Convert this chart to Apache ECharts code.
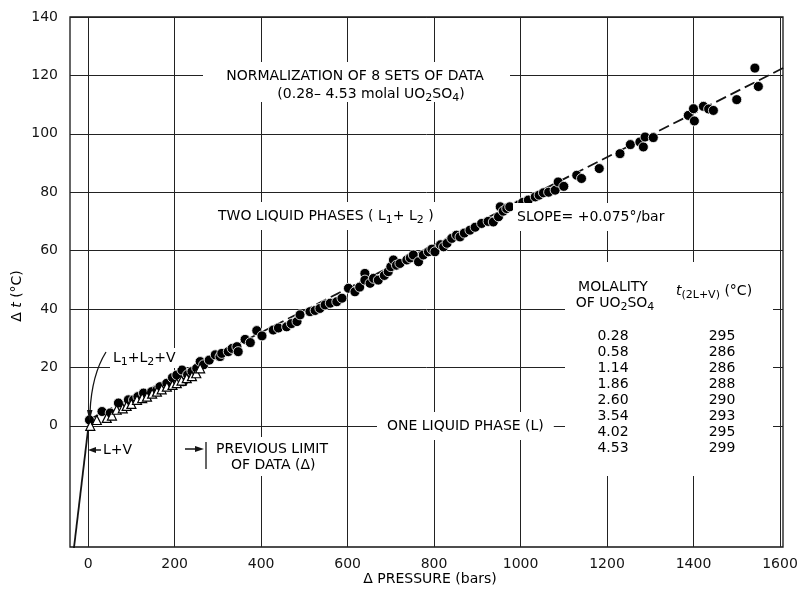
<!DOCTYPE html>
<html>
<head>
<meta charset="utf-8">
<script src="https://cdn.jsdelivr.net/npm/echarts@6/dist/echarts.min.js"></script>
<style>
  html, body { margin: 0; padding: 0; background: #fff; }
  #main { width: 801px; height: 590px; }
</style>
</head>
<body>
<div id="main"></div>
<script>
// tick values
const xTicks = [0, 200, 400, 600, 800, 1000, 1200, 1400, 1600];
const yTicks = [0, 20, 40, 60, 80, 100, 120, 140];

// filled circles: normalized data, [delta pressure (bars), delta t (C)]
const circles = [
  [3, 2], [32, 4.9], [51, 4.4], [70, 7.8], [93, 8.9], [105, 8.9], [115, 10], [128, 11.2],
  [147, 11.7], [160, 12.5], [166, 13.4], [182, 14.6], [195, 16.5], [205, 17.4], [217, 19.1],
  [220, 15.1], [230, 17.5], [240, 18.6], [251, 19.7], [259, 22], [267, 20.9], [280, 22.5],
  [294, 24.3], [305, 23.7], [309, 24.8], [324, 25.4], [333, 26.5], [344, 27.1], [347, 25.4],
  [363, 29.6], [375, 28.5], [390, 32.6], [402, 30.8], [428, 32.8], [440, 33.5], [459, 33.9],
  [470, 35], [483, 35.7], [490, 38], [513, 39.1], [525, 39.5], [536, 40.2], [548, 41.4],
  [560, 42], [575, 42.5], [587, 43.7], [602, 47.1], [617, 45.9], [628, 47.5], [640, 52.2],
  [640, 49.9], [652, 48.8], [660, 50.5], [671, 49.9], [685, 51.5], [694, 52.8], [700, 54.5],
  [706, 56.8], [713, 55], [721, 55.6], [737, 56.8], [745, 57.5], [752, 58.5], [764, 56.2],
  [775, 58.5], [787, 59.6], [795, 60.5], [802, 59.6], [815, 62], [822, 61.3], [830, 62.5],
  [841, 64.2], [852, 65.3], [860, 64.7], [870, 66], [883, 67], [895, 68], [910, 69.3],
  [925, 70], [937, 69.8], [949, 71.6], [953, 75], [960, 73.5], [968, 74.4], [975, 75],
  [995, 75.6], [1005, 76.5], [1018, 77.3], [1034, 78.4], [1043, 79], [1053, 79.8], [1065, 80],
  [1080, 80.7], [1087, 83.5], [1100, 82], [1130, 85.8], [1141, 84.7], [1182, 88.1],
  [1230, 93.2], [1254, 96.3], [1276, 97.2], [1284, 95.5], [1288, 98.9], [1307, 98.7],
  [1388, 106.3], [1400, 108.6], [1402, 104.4], [1423, 109.4], [1435, 108.5], [1446, 108],
  [1500, 111.7], [1542, 122.5], [1550, 116.2]
];

// open triangles: previous data
const triangles = [
  [5, 0], [20, 2], [43, 2.7], [55, 3.5], [66, 5.5], [80, 6], [89, 6.8], [100, 7.5],
  [113, 8.9], [125, 9.5], [136, 10], [148, 11], [159, 11.7], [170, 12.5], [182, 13.4],
  [195, 14], [205, 14.6], [216, 15.5], [228, 16.3], [240, 17], [250, 18], [259, 19.7]
];

// slope +0.075 deg/bar line and the L+V boundary
const fitLine = [[0, 2], [1610, 122.75]];
const lvLine = [[2, 1.5], [-33, -42]];

// table
const molality = ['0.28', '0.58', '1.14', '1.86', '2.60', '3.54', '4.02', '4.53'];
const t2LV = ['295', '286', '286', '288', '290', '293', '295', '299'];

const FONT = '"DejaVu Sans", sans-serif';
const FS = 14;
const INK = '#141414';
const chart = echarts.init(document.getElementById('main'));

const RICH = {
  n: { fontFamily: FONT, fontSize: FS, lineHeight: 20, color: INK },
  s: { fontFamily: FONT, fontSize: 11, lineHeight: 11, verticalAlign: 'bottom', color: INK },
  i: { fontFamily: FONT, fontSize: FS, lineHeight: 20, fontStyle: 'italic', color: INK }
};

// "L_1" -> subscript 1, "_{2L+V}" -> subscript group, "*t*" -> italic
function rich(str) {
  let out = '';
  const re = /_\{([^}]*)\}|_(.)|\*([^*]*)\*|([^_*]+)/g;
  let m;
  while ((m = re.exec(str)) !== null) {
    if (m[1] !== undefined) out += '{s|' + m[1] + '}';
    else if (m[2] !== undefined) out += '{s|' + m[2] + '}';
    else if (m[3] !== undefined) out += '{i|' + m[3] + '}';
    else out += '{n|' + m[4] + '}';
  }
  return out;
}

function label(x, y, text, extra) {
  return {
    type: 'text', z: 100,
    style: Object.assign({
      x: x, y: y, text: rich(text), rich: RICH,
      align: 'left', verticalAlign: 'middle'
    }, extra || {})
  };
}

const graphics = [
  // white patches that break the grid under the text
  { type: 'rect', z: 90, shape: { x: 203, y: 62, width: 307, height: 40 }, style: { fill: '#fff' } },
  { type: 'rect', z: 90, shape: { x: 565, y: 262, width: 208, height: 214 }, style: { fill: '#fff' } },

  label(355, 76, 'NORMALIZATION OF 8 SETS OF DATA', { align: 'center' }),
  label(371, 94, '(0.28\u2013 4.53 molal UO_2SO_4)', { align: 'center' }),
  label(213, 216, 'TWO LIQUID PHASES ( L_1+ L_2 )', { backgroundColor: '#fff', padding: [4, 5] }),
  label(513, 217, 'SLOPE= +0.075\u00b0/bar', { backgroundColor: '#fff', padding: [4, 4] }),
  label(377, 426, 'ONE LIQUID PHASE (L)', { backgroundColor: '#fff', padding: [4, 10] }),
  label(110, 358, 'L_1+L_2+V', { backgroundColor: '#fff', padding: [0, 3] }),
  label(103, 450, 'L+V'),
  label(213, 449, 'PREVIOUS LIMIT', { backgroundColor: '#fff', padding: [2, 3] }),
  label(228, 465, 'OF DATA (\u0394)', { backgroundColor: '#fff', padding: [1, 3] }),

  // table header
  label(613, 287, 'MOLALITY', { align: 'center' }),
  label(615, 303, 'OF UO_2SO_4', { align: 'center' }),
  label(676, 291, '*t*_{(2L+V)} (\u00b0C)'),

  // arrows
  { type: 'line', z: 100, shape: { x1: 92, y1: 450, x2: 101, y2: 450 }, style: { stroke: INK, lineWidth: 1.5 } },
  { type: 'polygon', z: 100, shape: { points: [[88, 450], [96, 447], [96, 453]] }, style: { fill: INK } },
  { type: 'line', z: 100, shape: { x1: 185, y1: 449, x2: 198, y2: 449 }, style: { stroke: INK, lineWidth: 1.5 } },
  { type: 'polygon', z: 100, shape: { points: [[204, 449], [195, 446], [195, 452]] }, style: { fill: INK } },
  { type: 'line', z: 100, shape: { x1: 206, y1: 442, x2: 206, y2: 469 }, style: { stroke: INK, lineWidth: 1.3 } },
  {
    type: 'bezierCurve', z: 100,
    shape: { x1: 106, y1: 352, cpx1: 96, cpy1: 368, cpx2: 91, cpy2: 390, x2: 90, y2: 412 },
    style: { stroke: INK, lineWidth: 1.3, fill: null }
  },
  { type: 'polygon', z: 100, shape: { points: [[89.5, 421], [87, 410], [92.5, 410]] }, style: { fill: INK } },

  // axis titles
  {
    type: 'text', z: 100, x: 17, y: 296, rotation: Math.PI / 2,
    style: { x: 0, y: 0, align: 'center', verticalAlign: 'middle', text: rich('\u0394 *t* (\u00b0C)'), rich: RICH }
  },
  label(430, 579, '\u0394 PRESSURE (bars)', { align: 'center' })
];

molality.forEach(function (m, i) {
  graphics.push(label(613, 336 + i * 16.1, m, { align: 'center' }));
  graphics.push(label(722, 336 + i * 16.1, t2LV[i], { align: 'center' }));
});

const option = {
  animation: false,
  backgroundColor: '#fff',
  textStyle: { fontFamily: FONT },
  grid: {
    left: 70, right: 18, top: 17, bottom: 43,
    show: true, borderColor: INK, borderWidth: 1.3
  },
  xAxis: {
    type: 'value', min: -42, max: 1607,
    axisLine: { show: false, onZero: false },
    axisTick: { show: false, customValues: xTicks },
    axisLabel: {
      customValues: xTicks, color: INK, fontSize: FS, margin: 10, fontFamily: FONT,
      formatter: function (v) { return String(v); }
    },
    splitLine: { show: true, lineStyle: { color: '#222', width: 1 } }
  },
  yAxis: {
    type: 'value', min: -41.5, max: 140,
    axisLine: { show: false, onZero: false },
    axisTick: { show: false, customValues: yTicks },
    axisLabel: {
      customValues: yTicks, color: INK, fontSize: FS, margin: 12, fontFamily: FONT,
      formatter: function (v) { return String(v); }
    },
    splitLine: { show: true, lineStyle: { color: '#222', width: 1 } }
  },
  graphic: graphics,
  series: [
    {
      type: 'line', data: fitLine, symbol: 'none', silent: true, z: 2,
      lineStyle: { color: INK, width: 1.8, type: [11, 5] }
    },
    {
      type: 'line', data: lvLine, symbol: 'none', silent: true, z: 2, clip: true,
      lineStyle: { color: INK, width: 1.8 }
    },
    {
      type: 'scatter', data: circles, symbol: 'circle', symbolSize: 10, z: 3,
      itemStyle: { color: '#000', borderColor: '#fff', borderWidth: 0.8, opacity: 1 }
    },
    {
      type: 'scatter', data: triangles, symbol: 'triangle', symbolSize: 9, z: 4,
      itemStyle: { color: '#fff', borderColor: '#000', borderWidth: 1.2, opacity: 1 }
    }
  ]
};

chart.setOption(option);
</script>
</body>
</html>
